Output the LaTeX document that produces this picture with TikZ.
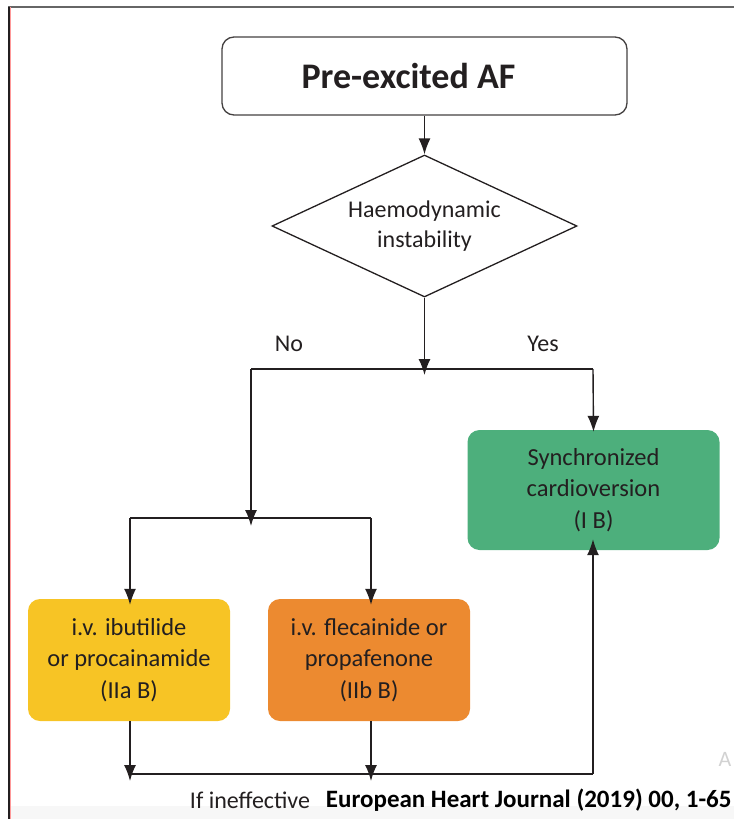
\documentclass[tikz,border=0pt]{standalone}
\usepackage{fontspec}
\setmainfont{Carlito}
\usetikzlibrary{shapes.geometric, arrows.meta}

\definecolor{inkgray}{RGB}{35,31,32}
\definecolor{ivyellow}{RGB}{247,196,37}
\definecolor{ivorange}{RGB}{236,138,48}
\definecolor{cvgreen}{RGB}{77,175,124}

\tikzset{
  startbox/.style={draw=inkgray!85, line width=1.3pt, rounded corners=12pt, fill=white,
    minimum width=405pt, minimum height=78pt, font=\fontsize{36}{40}\selectfont\bfseries},
  decision/.style={draw=inkgray, line width=1.3pt, diamond, aspect=2.15, inner sep=0pt,
    minimum width=305pt, minimum height=142pt, align=center},
  drugbox/.style={rounded corners=12pt, minimum width=202pt, minimum height=122pt,
    align=center, text=inkgray, font=\fontsize{24.5}{31.5}\selectfont},
  link/.style={draw=inkgray, line width=1.4pt},
  flow/.style={link, arrows={-Latex[length=16pt, width=12pt]}}
}

\begin{document}
\begin{tikzpicture}[x=1pt, y=-1pt, font=\fontsize{24}{30.5}\selectfont, text=inkgray]

\useasboundingbox (0,0) rectangle (734,819);

% page frame and footer band
\fill[gray!6] (10,806) rectangle (734,819);
\draw[gray!80!black, line width=1.5pt] (8,7) -- (734,7);
\draw[inkgray, line width=1.2pt] (9,6.5) -- (9,819);
\draw[red!40, line width=1.2pt] (10.5,7) -- (10.5,819);

% TOP

% Start box
\node[startbox] (af) at (424.5,76) {\hspace*{-32pt}Pre-excited AF};

% Decision
\node[decision] (haem) at (424.5,226) {Haemodynamic\\instability};
\draw[flow] (af) -- (haem);

% Split
\coordinate (split) at (424.5,369);
\coordinate (noturn) at (251,369);
\coordinate (yesturn) at (593,369);
\draw[flow] (haem.south) -- ([yshift=-6pt]split);
\draw[link] (noturn) -- (yesturn);
\node (nolbl) at (289,344) {No};
\node (yeslbl) at (543,344) {Yes};

% RIGHT BRANCH

% Cardioversion
\node[drugbox, fill=cvgreen, minimum width=252pt, minimum height=120pt] (cv) at (593.5,490)
  {Synchronized\\cardioversion\\(I B)};
\draw[flow] (yesturn) -- ([yshift=-2pt]cv.north);

% LEFT BRANCH

% Drug split
\coordinate (drugsplit) at (251,518);
\coordinate (ibturn) at (130,518);
\coordinate (flturn) at (371,518);
\draw[flow] (noturn) -- ([yshift=-8pt]drugsplit);
\draw[link] (ibturn) -- (flturn);

% Drug boxes
\node[drugbox, fill=ivyellow] (ibut) at (129,660)
  {i.v. ibutilide\\or procainamide\\(IIa B)};
\node[drugbox, fill=ivorange] (flec) at (369,660)
  {i.v. flecainide or\\propafenone\\(IIb B)};
\draw[flow] (ibturn) -- ([yshift=-6pt]ibut.north -| ibturn);
\draw[flow] (flturn) -- ([yshift=-6pt]flec.north -| flturn);

% If ineffective
\coordinate (ibend) at (130,774);
\coordinate (flend) at (371,774);
\coordinate (cvend) at (593,774);
\draw[flow] (ibut.south -| ibend) -- ([yshift=-7pt]ibend);
\draw[flow] (flec.south -| flend) -- ([yshift=-7pt]flend);
\draw[link] (ibend) -- (cvend);
\draw[flow] (cvend) -- ([yshift=11pt]cv.south -| cvend);

% Footer
\node[font=\fontsize{24}{28}\selectfont] (ineff) at (250,800) {If ineffective};
\node[anchor=east, font=\fontsize{25}{28}\selectfont\bfseries, text=black] (ehj) at (735,800)
  {European Heart Journal (2019) 00, 1-65};
\node[anchor=east, text=gray!35, font=\fontsize{22}{26}\selectfont] (wm) at (735,759) {A};

\end{tikzpicture}
\end{document}
